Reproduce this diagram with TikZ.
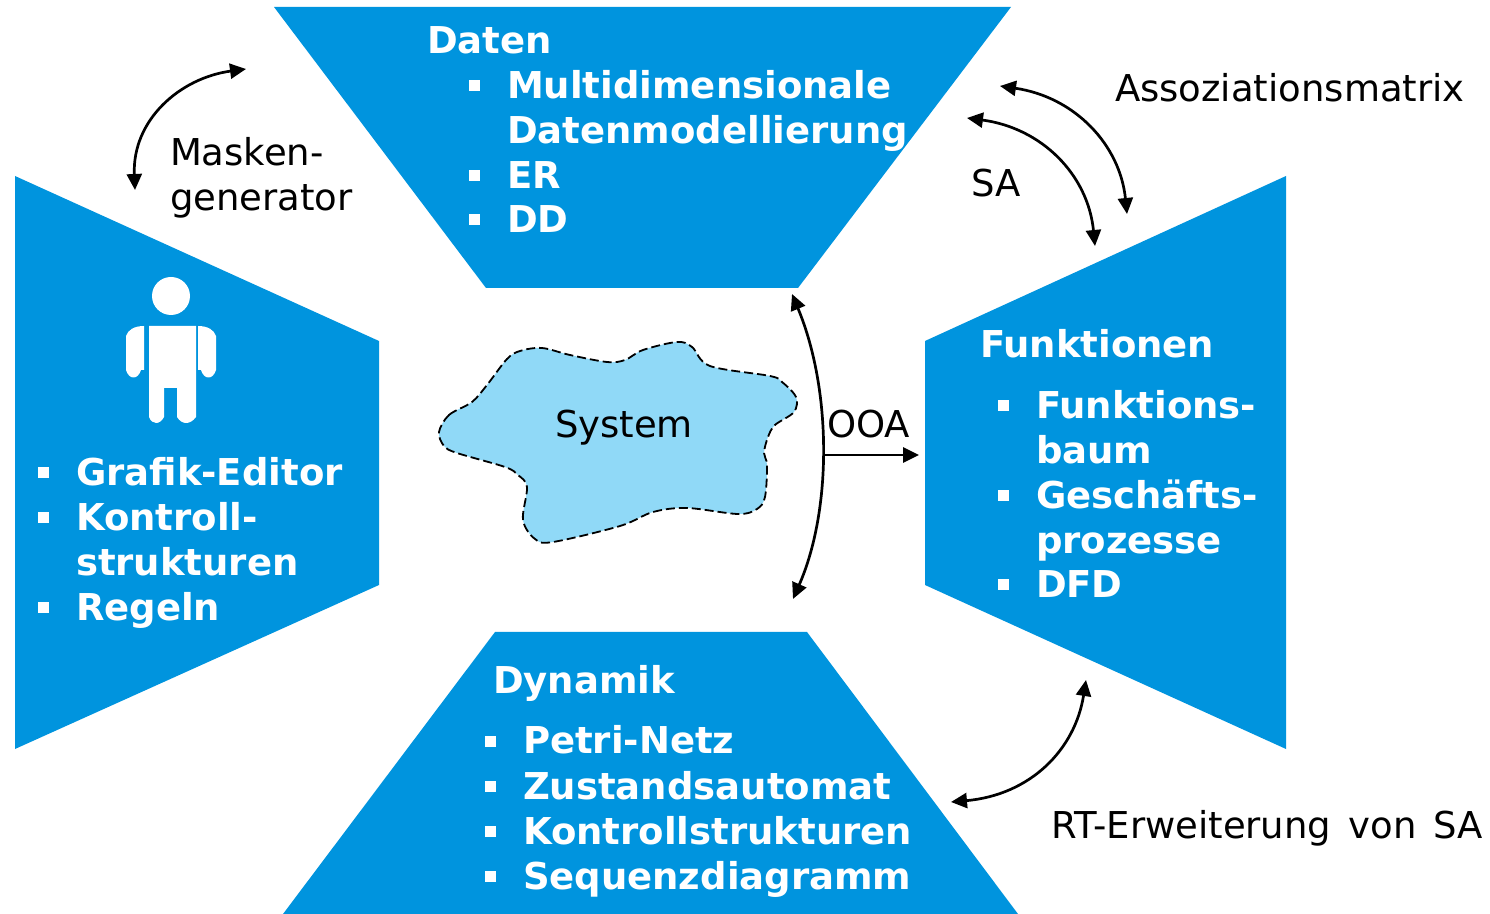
\documentclass[tikz,border=0pt]{standalone}
\usepackage{fontspec}
\setmainfont{DejaVu Sans}
\usetikzlibrary{arrows.meta}
\definecolor{blau}{HTML}{0094DE}
\definecolor{hell}{HTML}{90D9F7}
\tikzset{
  x=0.5pt,y=-0.5pt,
  panel/.style={fill=blau,draw=none},
  lab/.style={anchor=base west,inner sep=0pt,outer sep=0pt,font=\fontsize{18.5}{19}\selectfont,text=black},
  head/.style={lab,font=\fontsize{18.5}{19}\bfseries\selectfont,text=white},
  bul/.style={fill=white,draw=none,minimum size=5.5pt,inner sep=0pt,outer sep=0pt},
  arr/.style={draw=black,line width=1.35pt,{Triangle[length=8pt,width=7.5pt]}-{Triangle[length=8pt,width=7.5pt]}},
  arrone/.style={draw=black,line width=1.35pt,-{Triangle[length=8pt,width=7.5pt]}},
}
\newcommand{\itm}[4]{\node[bul] (b#1) at (#2-33,#3-13) {}; \node[head] (t#1) at (#2,#3) {#4};}
\begin{document}
\begin{tikzpicture}
\useasboundingbox (0,0) rectangle (1490,914);
\fill[white] (0,0) rectangle (1490,914);
\path[panel] (274,7) -- (1011,7) -- (798,288) -- (486,288) -- cycle;
\path[panel] (15,176) -- (379,341) -- (379,585) -- (15,749) -- cycle;
\path[panel] (1286,176) -- (925,341) -- (925,585) -- (1286,749) -- cycle;
\path[panel] (495,632) -- (807,632) -- (1018,914) -- (283,914) -- cycle;
% cloud
\draw[fill=hell,draw=black,line width=0.9pt,dash pattern=on 4.5pt off 2pt]
  plot[smooth cycle,tension=0.55] coordinates {
  (439,432)(449,415)(472,402)(487,385)(507,359)(520,351)(542,348)(570,355)(607,362)(625,360)
  (643,350)(677,342)(692,347)(710,366)(770,376)(782,382)(796,397)(794,412)(775,425)(768,437)
  (764,453)(767,465)(765,497)(757,509)(738,514)(687,508)(653,512)(620,526)(553,542)(535,539)
  (523,520)(527,487)(518,475)(505,467)(457,453)(444,446)};
% person
\fill[white] (171,296) circle (19);
\fill[white] (149,326) -- (196,326) -- (196,417) .. controls (190,425) and (182,425) .. (177,417) -- (177,388) -- (164,388) -- (164,417) .. controls (160,425) and (152,425) .. (149,417) -- cycle;
\fill[white] (144,326) -- (144,370) -- (141,370) .. controls (138,380) and (129,380) .. (126,370) -- (126,336) .. controls (128,330) and (134,326) .. (144,326) -- cycle;
\fill[white] (198,326) -- (198,370) -- (201,370) .. controls (204,380) and (213,380) .. (216,370) -- (216,336) .. controls (214,330) and (208,326) .. (198,326) -- cycle;
% texts
\node[head] (daten) at (427,54) {Daten};
\itm{a}{507}{99}{Multidimensionale}
\node[head] (a2) at (507,144) {Datenmodellierung};
\itm{b}{507}{189}{ER}
\itm{c}{507}{233}{DD}
\node[head] (funk) at (980,358) {Funktionen};
\itm{d}{1036}{419}{Funktions-}
\node[head] (d2) at (1036,464) {baum};
\itm{e}{1036}{509}{Geschäfts-}
\node[head] (e2) at (1036,554) {prozesse};
\itm{f}{1036}{598}{DFD}
\node[head] (dyn) at (493,694) {Dynamik};
\itm{g}{523}{754}{Petri-Netz}
\itm{h}{523}{799}{Zustandsautomat}
\itm{i}{523}{844}{Kontrollstrukturen}
\itm{j}{523}{889}{Sequenzdiagramm}
\itm{k}{76}{486}{Grafik-Editor}
\itm{l}{76}{531}{Kontroll-}
\node[head] (l2) at (76,576) {strukturen};
\itm{m}{76}{621}{Regeln}
\node[lab] (mask) at (170,166) {Masken-};
\node[lab] (gen) at (170,211) {generator};
\node[lab] (asso) at (1115,102) {Assoziationsmatrix};
\node[lab] (sa) at (971,197) {SA};
\node[lab] (sys) at (555,438) {System};
\node[lab] (ooa) at (827,438) {OOA};
\node[lab] (rt) at (1051,838) {RT-Erweiterung\hspace{2.7pt} von\hspace{2.7pt} SA};
% connectors
\coordinate (m1) at (246,69); \coordinate (m2) at (135,190);
\draw[arr] (m1) .. controls (180,78) and (132,120) .. (m2);
\coordinate (as1) at (1000,86); \coordinate (as2) at (1127,214);
\draw[arr] (as1) .. controls (1075,97) and (1120,145) .. (as2);
\coordinate (s1) at (967,118); \coordinate (s2) at (1095,246);
\draw[arr] (s1) .. controls (1042,128) and (1088,175) .. (s2);
\coordinate (r1) at (1086,680); \coordinate (r2) at (951,802);
\draw[arr] (r1) .. controls (1075,750) and (1030,795) .. (r2);
\coordinate (o1) at (792,294); \coordinate (o2) at (793,599);
\coordinate (o3) at (823,455); \coordinate (o4) at (919,455);
\draw[arr] (o1) .. controls (832,390) and (832,510) .. (o2);
\draw[arrone] (o3) -- (o4);
\end{tikzpicture}
\end{document}
